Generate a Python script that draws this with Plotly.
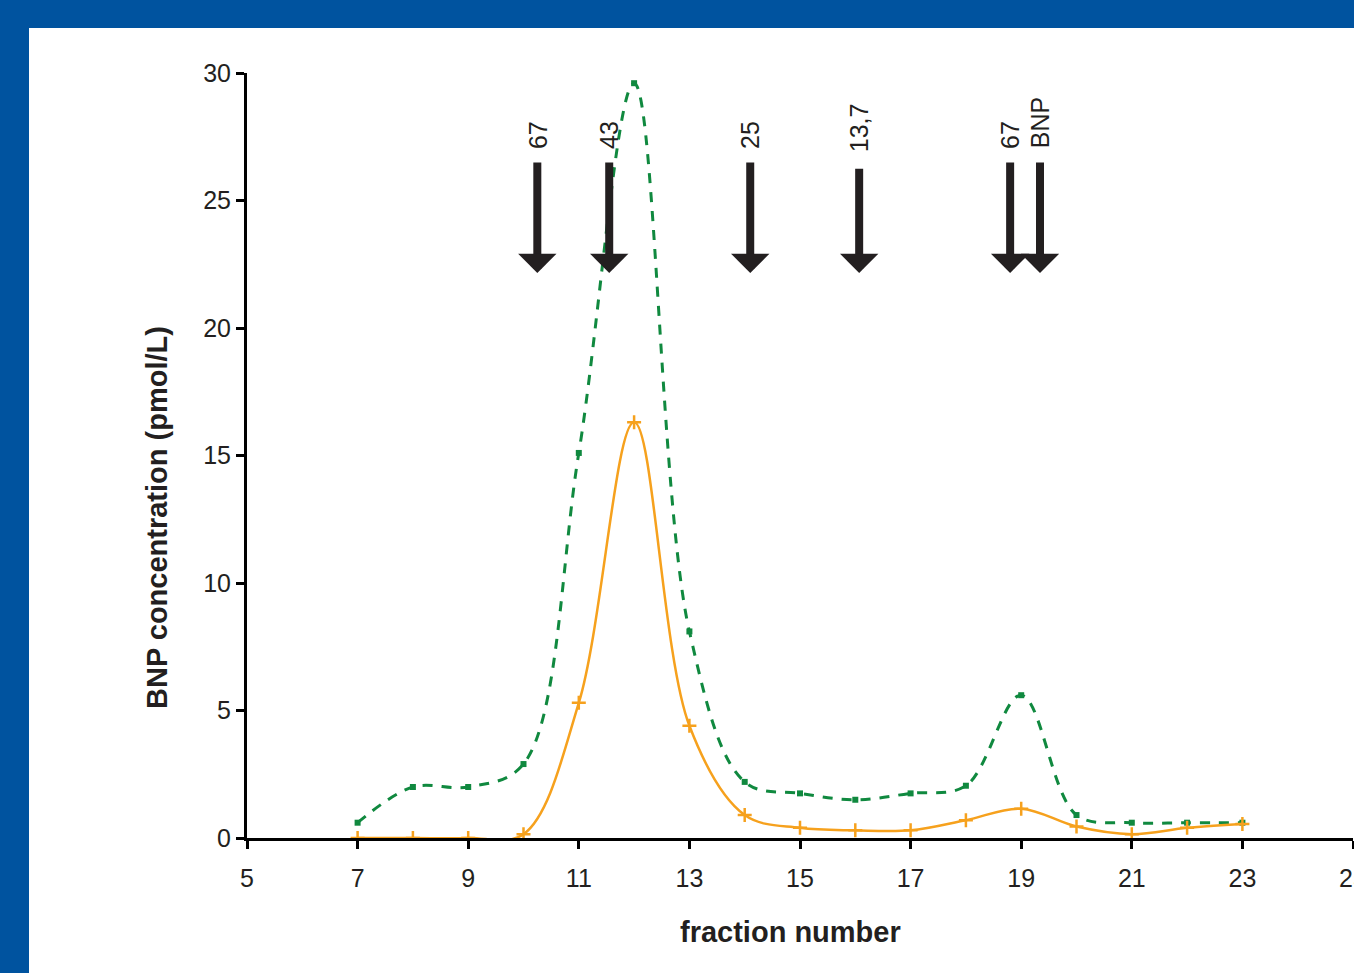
import plotly.graph_objects as go

# ---- data ----
fractions = [7, 8, 9, 10, 11, 12, 13, 14, 15, 16, 17, 18, 19, 20, 21, 22, 23]
bnp_green = [0.6, 2.0, 2.0, 2.9, 15.1, 29.6, 8.1, 2.2, 1.75, 1.5, 1.75, 2.05, 5.6, 0.9, 0.6, 0.6, 0.6]
bnp_orange = [0.0, 0.0, 0.0, 0.15, 5.3, 16.3, 4.4, 0.9, 0.4, 0.3, 0.3, 0.7, 1.15, 0.45, 0.15, 0.4, 0.55]

marker_fractions = [10.25, 11.55, 14.1, 16.07, 18.8, 19.34]
marker_labels = ["67", "43", "25", "13,7", "67", "BNP"]
marker_tail = [26.55, 26.55, 26.55, 26.3, 26.55, 26.55]
marker_tip = [22.16, 22.16, 22.16, 22.16, 22.16, 22.16]
marker_label_base = [26.95, 26.95, 26.95, 26.8, 26.95, 26.95]

x_ticks = [5, 7, 9, 11, 13, 15, 17, 19, 21, 23, 25]
y_ticks = [0, 5, 10, 15, 20, 25, 30]

x_title = "fraction number"
y_title = "BNP concentration (pmol/L)"

# ---- layout constants ----
W, H = 1354, 973
ML, MR, MT, MB = 247, 1, 73, 135
PW, PH = W - ML - MR, H - MT - MB
BLUE = "#00539F"
TXT = "#231f20"
FONT = "Liberation Sans, Arial, sans-serif"

def px_x(p):
    return (p - ML) / PW

def px_y(p):
    return (H - MB - p) / PH

fig = go.Figure()

fig.add_trace(go.Scatter(
    x=fractions, y=bnp_green, mode="lines+markers",
    line=dict(color="#10893f", width=3, dash="10px,9px", shape="spline", smoothing=1.0),
    marker=dict(symbol="square", size=6, color="#10893f"),
    showlegend=False,
))
fig.add_trace(go.Scatter(
    x=fractions, y=bnp_orange, mode="lines+markers",
    line=dict(color="#f6a11d", width=2.5, shape="spline", smoothing=1.0),
    marker=dict(symbol="cross-thin", size=10, line=dict(color="#f6a11d", width=2.5)),
    showlegend=False,
))

annotations = []
for xv, lab, tail, tip, base in zip(marker_fractions, marker_labels, marker_tail, marker_tip, marker_label_base):
    annotations.append(dict(
        x=xv, y=tip, ax=xv, ay=tail, xref="x", yref="y", axref="x", ayref="y",
        text="", showarrow=True, arrowhead=1, arrowsize=0.8, arrowwidth=8,
        arrowcolor=TXT,
    ))
    annotations.append(dict(
        x=xv, y=base, xref="x", yref="y", text=lab, showarrow=False,
        textangle=-90, xanchor="center", yanchor="bottom",
        font=dict(family=FONT, size=25, color=TXT),
    ))

annotations.append(dict(
    x=px_x(790), y=px_y(932), xref="paper", yref="paper", showarrow=False,
    text="<b>%s</b>" % x_title, xanchor="center", yanchor="middle",
    font=dict(family=FONT, size=29, color=TXT),
))
annotations.append(dict(
    x=px_x(157), y=px_y(518), xref="paper", yref="paper", showarrow=False,
    text="<b>%s</b>" % y_title, textangle=-90, xanchor="center", yanchor="middle",
    font=dict(family=FONT, size=29, color=TXT),
))

shapes = [
    dict(type="rect", xref="paper", yref="paper", layer="below",
         x0=px_x(-10), x1=px_x(W + 10), y0=px_y(28), y1=px_y(-10),
         fillcolor=BLUE, line=dict(width=0)),
    dict(type="rect", xref="paper", yref="paper", layer="below",
         x0=px_x(-10), x1=px_x(29), y0=px_y(H + 10), y1=px_y(-10),
         fillcolor=BLUE, line=dict(width=0)),
]

fig.update_layout(
    width=W, height=H,
    margin=dict(l=ML, r=MR, t=MT, b=MB, pad=0),
    paper_bgcolor="white", plot_bgcolor="white",
    font=dict(family=FONT, color=TXT),
    annotations=annotations, shapes=shapes,
    xaxis=dict(
        range=[5, 25], tickvals=x_ticks, showgrid=False, zeroline=False,
        showline=True, linewidth=3, linecolor="black",
        ticks="outside", ticklen=8, tickwidth=3, tickcolor="black",
        ticklabelstandoff=8, ticklabeloverflow="allow",
        tickfont=dict(family=FONT, size=25, color=TXT),
        automargin=False,
    ),
    yaxis=dict(
        range=[0, 30], tickvals=y_ticks, showgrid=False, zeroline=False,
        showline=True, linewidth=3, linecolor="black",
        ticks="outside", ticklen=8, tickwidth=3, tickcolor="black",
        tickfont=dict(family=FONT, size=25, color=TXT),
        automargin=False,
    ),
)

fig.write_html("out.html")
